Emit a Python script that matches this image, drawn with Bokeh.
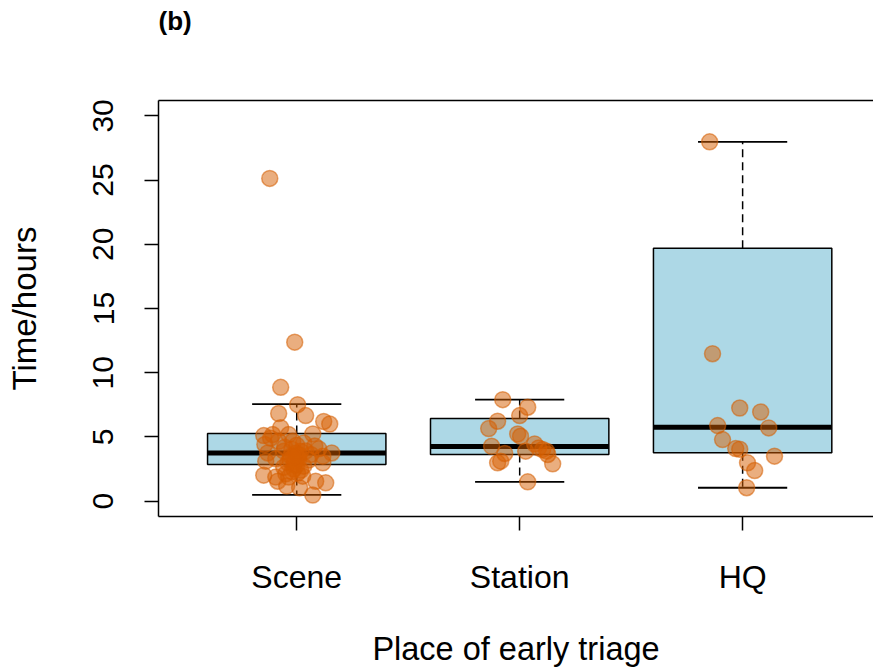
import numpy as np
from bokeh.plotting import figure
from bokeh.models import ColumnDataSource, FixedTicker, LinearAxis, Range1d, Title
from bokeh.embed import file_html
from bokeh.resources import INLINE

# ---------------- data ----------------
categories = ["Scene", "Station", "HQ"]
positions = [1, 2, 3]
panel_tag = "(b)"

# box statistics: lower whisker, Q1, median, Q3, upper whisker
lower_whisker = [0.49, 1.50, 1.04]
q1 = [2.85, 3.63, 3.76]
median = [3.75, 4.25, 5.75]
q3 = [5.26, 6.43, 19.69]
upper_whisker = [7.56, 7.90, 27.98]

scene_times = [25.13, 12.38, 8.86, 7.51, 6.82, 6.66, 6.20, 6.00, 5.72, 5.10,
               5.18, 5.18, 5.23, 4.41, 4.66, 4.53, 4.07, 3.75, 3.75, 3.89,
               3.50, 3.37, 3.63, 3.50, 3.11, 2.98, 2.85, 2.72, 2.98, 2.02,
               1.87, 2.12, 1.94, 1.55, 1.42, 1.55, 1.17, 1.03, 0.47, 4.04,
               3.73, 3.26, 3.20, 2.49, 2.18, 3.89, 4.66, 2.64, 4.35, 1.87,
               4.30, 4.90, 3.20, 4.20, 2.40, 3.90, 3.30, 3.10, 2.30, 3.60,
               2.80, 3.45]
scene_jitter = [-0.121, -0.009, -0.072, 0.004, -0.081, 0.040, 0.121, 0.148, -0.072, -0.148,
                -0.108, -0.036, 0.072, -0.143, -0.081, 0.031, 0.099, 0.157, -0.130, -0.058,
                -0.027, 0.004, 0.063, 0.117, -0.139, -0.040, -0.013, 0.031, 0.117, -0.148,
                -0.094, -0.049, 0.027, 0.085, 0.130, -0.085, -0.045, 0.013, 0.072, -0.022,
                -0.004, 0.009, -0.031, -0.013, 0.004, 0.018, -0.018, -0.058, 0.000, -0.036,
                0.081, -0.117, 0.054, -0.054, 0.018, 0.040, -0.094, -0.009, -0.022, 0.010,
                0.000, -0.015]

station_times = [7.90, 7.31, 6.66, 6.22, 5.65, 5.23, 5.05, 4.27, 4.45, 4.14,
                 4.02, 3.89, 3.89, 3.71, 3.63, 3.11, 2.98, 2.90, 1.50]
station_jitter = [-0.076, 0.036, 0.000, -0.099, -0.139, -0.009, 0.004, -0.126, 0.067, 0.085,
                  0.103, 0.121, 0.027, -0.067, 0.126, -0.085, -0.099, 0.148, 0.036]

hq_times = [27.98, 11.48, 7.25, 6.94, 5.88, 5.70, 4.79, 4.09, 4.04, 3.50, 2.98, 2.38, 1.04]
hq_jitter = [-0.148, -0.135, -0.013, 0.081, -0.112, 0.117, -0.090, -0.031, -0.013, 0.143,
             0.022, 0.054, 0.018]

y_ticks = [0, 5, 10, 15, 20, 25, 30]

# ---------------- figure ----------------
FONT = "Liberation Sans"
p = figure(width=873, height=669,
           x_range=Range1d(0.38, 3.587), y_range=Range1d(-1.2, 31.2),
           output_backend="svg", toolbar_location=None,
           min_border_left=158, min_border_right=0,
           min_border_top=100, min_border_bottom=153)
p.grid.visible = False
p.outline_line_color = None
p.background_fill_color = "white"
p.border_fill_color = "white"

pos = np.array(positions, dtype=float)
box_w = 0.8
cap_w = 0.4

box_src = ColumnDataSource(dict(x=pos, q1=q1, q3=q3, med=median,
                                lw=lower_whisker, uw=upper_whisker,
                                x0=pos - box_w / 2, x1=pos + box_w / 2,
                                c0=pos - cap_w / 2, c1=pos + cap_w / 2))

# whiskers (dashed)
p.segment(x0="x", y0="q3", x1="x", y1="uw", source=box_src,
          line_color="black", line_width=1.5, line_dash="8 5")
p.segment(x0="x", y0="q1", x1="x", y1="lw", source=box_src,
          line_color="black", line_width=1.5, line_dash="8 5")
# caps
p.segment(x0="c0", y0="uw", x1="c1", y1="uw", source=box_src,
          line_color="black", line_width=1.8)
p.segment(x0="c0", y0="lw", x1="c1", y1="lw", source=box_src,
          line_color="black", line_width=1.8)
# boxes
p.quad(left="x0", right="x1", bottom="q1", top="q3", source=box_src,
       fill_color="#ADD8E6", line_color="black", line_width=1.5)
# medians
p.segment(x0="x0", y0="med", x1="x1", y1="med", source=box_src,
          line_color="black", line_width=5, line_cap="butt")

# jittered points
for i, (times, jit) in enumerate([(scene_times, scene_jitter),
                                  (station_times, station_jitter),
                                  (hq_times, hq_jitter)]):
    xs = pos[i] + np.array(jit)
    p.scatter(x=xs, y=times, size=16, marker="circle",
              fill_color="#D55E00", fill_alpha=0.5,
              line_color="#D55E00", line_alpha=0.55, line_width=1.5)

# axes
p.xaxis.ticker = FixedTicker(ticks=positions)
p.xaxis.major_label_overrides = {pos_: cat for pos_, cat in zip(positions, categories)}
p.xaxis.axis_label = "Place of early triage"
p.yaxis.ticker = FixedTicker(ticks=y_ticks)
p.yaxis.axis_label = "Time/hours"
p.yaxis.major_label_orientation = "vertical"

for ax in (p.xaxis[0], p.yaxis[0]):
    ax.axis_line_color = "black"
    ax.axis_line_width = 1.5
    ax.major_tick_line_color = "black"
    ax.major_tick_line_width = 1.5
    ax.major_tick_out = 14
    ax.major_tick_in = 0
    ax.minor_tick_line_color = None
    ax.major_label_text_font = FONT
    ax.major_label_text_color = "black"
    ax.axis_label_text_font = FONT
    ax.axis_label_text_font_style = "normal"
    ax.axis_label_text_color = "black"

p.xaxis.major_label_text_font_size = "32px"
p.xaxis.major_label_standoff = 28
p.xaxis.axis_label_text_font_size = "32.5px"
p.xaxis.axis_label_standoff = 33
p.yaxis.major_label_text_font_size = "30px"
p.yaxis.major_label_standoff = 31
p.yaxis.axis_label_text_font_size = "33px"
p.yaxis.axis_label_standoff = 48

top = LinearAxis(ticker=FixedTicker(ticks=[]), major_tick_line_color=None,
                 minor_tick_line_color=None, major_label_text_font_size="0px",
                 axis_line_color="black", axis_line_width=1.5)
p.add_layout(top, "above")

# empty spacer title between frame and the panel tag
spacer = Title(text=" ", text_font=FONT, text_font_size="26px", standoff=33)
p.add_layout(spacer, "above")
tag = Title(text=panel_tag, align="left", text_font=FONT, text_font_style="bold",
            text_font_size="26px", text_color="black", standoff=0)
p.add_layout(tag, "above")

open("out.html", "w").write(file_html(p, INLINE))
